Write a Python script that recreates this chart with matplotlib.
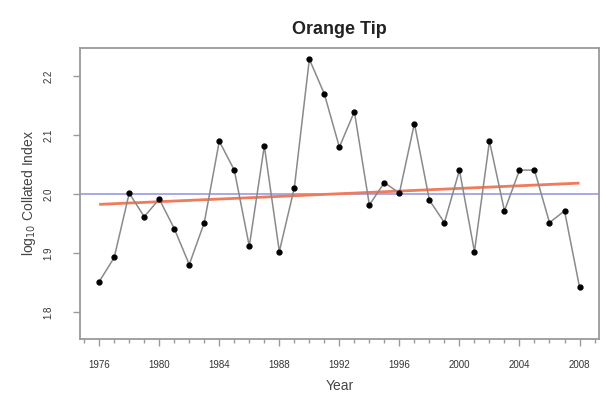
import matplotlib.pyplot as plt
from matplotlib.ticker import MultipleLocator

plt.rcParams['font.family'] = ['Liberation Sans', 'DejaVu Sans']

years = list(range(1976, 2009))
index = [1.852, 1.893, 2.002, 1.962, 1.992, 1.942, 1.881, 1.952, 2.090, 2.041,
         1.912, 2.082, 1.903, 2.011, 2.229, 2.170, 2.080, 2.140, 1.982, 2.020,
         2.002, 2.120, 1.990, 1.952, 2.041, 1.903, 2.090, 1.972, 2.041, 2.041,
         1.952, 1.972, 1.843]
mean_level = 2.0
trend_ends = [1.983, 2.019]

fig = plt.figure(figsize=(6.06, 4.03), dpi=100)
ax = fig.add_axes([0.132, 0.159, 0.856, 0.722])

ax.axhline(mean_level, color='#9a9ae0', lw=1.2, zorder=1)
ax.plot([years[0], years[-1]], trend_ends, color='#f07a5a', lw=2.0,
        solid_capstyle='butt', zorder=2)
ax.plot(years, index, color='#8a8a8a', lw=1.1, zorder=3)
ax.plot(years, index, 'o', color='black', ms=3.5, zorder=4)

ax.set_xlim(1974.72, 2009.28)
ax.set_ylim(1.755, 2.248)
ax.xaxis.set_major_locator(MultipleLocator(4))
ax.xaxis.set_minor_locator(MultipleLocator(1))
ax.set_yticks([1.8, 1.9, 2.0, 2.1, 2.2])
ax.set_yticklabels(['1.8', '1.9', '2.0', '2.1', '2.2'], rotation=90, va='center')

for side in ax.spines.values():
    side.set_color('#9a9a9a')
    side.set_linewidth(1.3)
ax.tick_params(which='major', length=5, width=1, color='#9a9a9a',
               labelsize=7, labelcolor='#333333')
ax.tick_params(axis='x', which='major', pad=10)
ax.tick_params(axis='y', which='major', pad=14)
ax.tick_params(which='minor', length=3, width=1, color='#9a9a9a')

ax.set_title('Orange Tip', fontsize=13, fontweight='bold', color='#222222', pad=10)
ax.set_xlabel('Year', fontsize=10, color='#444444', labelpad=7)
ax.set_ylabel('log$_{10}$ Collated Index', fontsize=10, color='#444444', labelpad=4)

fig.savefig('out.png', dpi=100)
